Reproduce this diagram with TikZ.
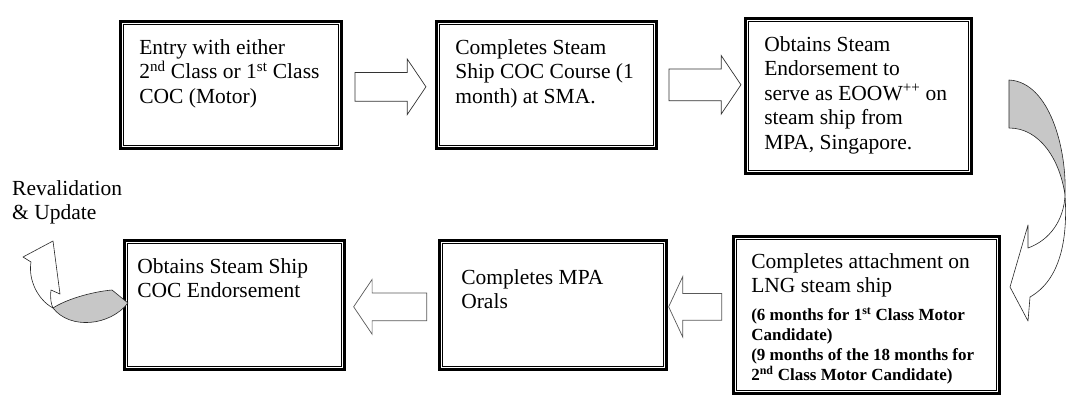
\documentclass[tikz,border=0pt]{standalone}
\usepackage{fontspec}
\setmainfont{Liberation Serif}
\usepackage{tikz}
\usetikzlibrary{shapes.arrows}
\newcommand{\stagetext}[3]{\parbox[t][#2][t]{#1}{\raggedright #3}}
\newcommand{\smalltext}{\fontsize{17}{20}\selectfont\bfseries}

\begin{document}
\begin{tikzpicture}[x=1pt, y=-1pt,
  stage/.style={draw, line width=2.6pt, anchor=north west, inner xsep=19pt,
                inner ysep=18pt, font=\fontsize{21.5}{24.5}\selectfont},
  innerline/.style={line width=1.1pt},
  blockarr/.style={single arrow, draw=black!80, fill=white, line width=0.7pt,
                   inner xsep=0pt, inner ysep=14pt, single arrow head extend=13.5pt,
                   single arrow tip angle=112, minimum height=72pt, anchor=tail},
  twist/.style={draw=black!85, line width=0.6pt, line join=round},
]
\useasboundingbox (0,0) rectangle (1084,405);

% top row
\node[stage] (b1) at (119,20) {\stagetext{183pt}{91pt}{Entry with either\\
  2\textsuperscript{nd} Class or 1\textsuperscript{st} Class\\ COC (Motor)}};
\node[stage] (b2) at (435,20) {\stagetext{182pt}{91pt}{Completes Steam\\
  Ship COC Course (1\\ month) at SMA.}};
\node[stage] (b3) at (744,17) {\stagetext{188pt}{119pt}{Obtains Steam\\
  Endorsement to\\ serve as EOOW\textsuperscript{++} on\\ steam ship from\\ MPA, Singapore.}};

% bottom row
\node[stage, inner xsep=18pt, inner ysep=17pt] (b6) at (732,235) {\stagetext{230pt}{123pt}{%
  Completes attachment on\\ LNG steam ship\par\vspace{8pt}
  \smalltext (6 months for 1\textsuperscript{st} Class Motor\\ Candidate)\\
  (9 months of the 18 months for\\ 2\textsuperscript{nd} Class Motor Candidate)}};
\node[stage, inner xsep=22pt, inner ysep=29pt] (b5) at (438,239) {\stagetext{183pt}{71pt}{%
  Completes MPA\\ Orals}};
\node[stage, inner xsep=13pt] (b4) at (123,239) {\stagetext{194pt}{93pt}{%
  Obtains Steam Ship\\ COC Endorsement}};

\foreach \b in {b1,b2,b3,b4,b5,b6}
  \draw[innerline] ([shift={(4.2pt,-4.2pt)}]\b.north west) rectangle
                   ([shift={(-4.2pt,4.2pt)}]\b.south east);

% block arrows between the stages
\node[blockarr, minimum height=71pt] (a1) at ([xshift=12pt, yshift=-2pt]b1.east) {};
\node[blockarr, inner ysep=15.5pt, single arrow head extend=13.5pt] (a2) at ([xshift=11pt]b2.east) {};
\node[blockarr, shape border rotate=180, draw=black!65, inner ysep=13.5pt,
      minimum height=73pt] (a4) at ([xshift=-11pt, yshift=-2pt]b5.west) {};
\node[blockarr, shape border rotate=180, draw=black!65, inner ysep=13pt,
      single arrow head extend=17pt, single arrow tip angle=130,
      minimum height=53pt] (a5) at ([xshift=-10pt, yshift=8pt]b6.west) {};

% curved arrow from b3 down to b6
\fill[black!22] (1009,80) .. controls (1050,82) and (1067,150) .. (1065,195)
  .. controls (1060,160) and (1040,128) .. (1009,128) -- cycle;
\draw[twist] (1009,80) .. controls (1050,82) and (1067,150) .. (1065,195)
  .. controls (1060,160) and (1040,128) .. (1009,128) -- cycle;
\draw[twist, fill=white] (1065,195) .. controls (1068,240) and (1060,280) .. (1030,297)
  -- (1028,321) -- (1010,287) -- (1028,225) -- (1028,248)
  .. controls (1050,240) and (1064,220) .. (1065,195) -- cycle;

% curved arrow out of b4
\draw[twist, fill=black!22] (53,308) .. controls (70,330) and (110,326) .. (128,303)
  -- (112,290) .. controls (90,292) and (65,300) .. (53,308) -- cycle;
\draw[twist, fill=white] (53,308) .. controls (38,300) and (28,280) .. (31,262)
  -- (23,257) -- (53,241) -- (60,294) -- (51,290)
  .. controls (50,298) and (51,304) .. (53,308) -- cycle;

\node[anchor=north west, align=left, inner sep=0pt,
      font=\fontsize{21.5}{24.5}\selectfont] (reval) at (12,180)
  {Revalidation\\ \& Update};
\end{tikzpicture}
\end{document}
